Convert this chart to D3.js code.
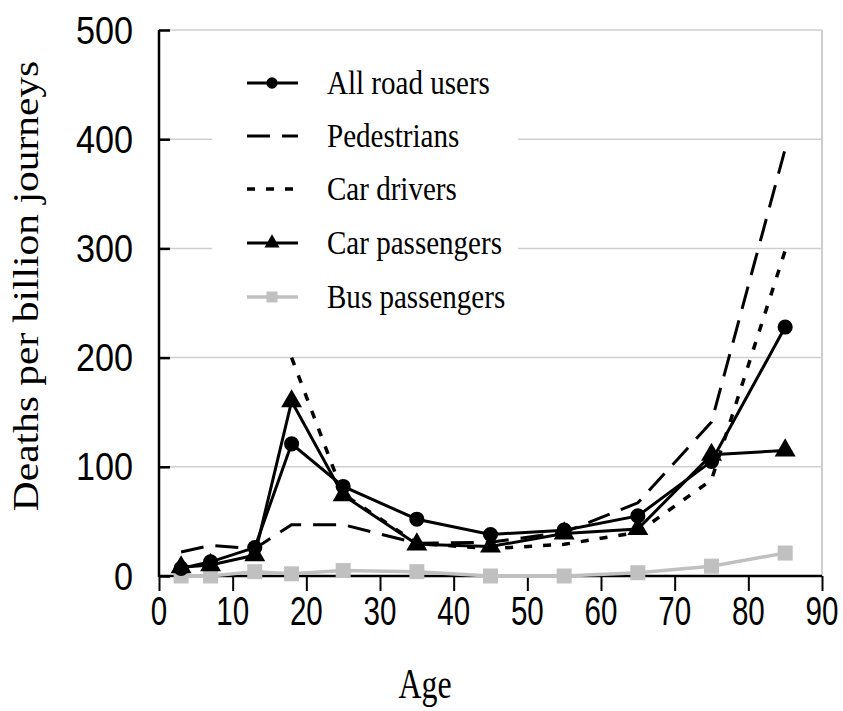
<!DOCTYPE html>
<html><head><meta charset="utf-8">
<script src="https://cdn.jsdelivr.net/npm/d3@7"></script>
<style>body{margin:0;background:#fff}svg{display:block}</style>
</head><body>
<script>
const ages = [3, 7, 13, 18, 25, 35, 45, 55, 65, 75, 85];
const allRoadUsers  = [7, 13, 26, 121, 82, 52, 38, 42, 55, 105, 228];
const pedestrians   = [22, 28, 25, 47, 47, 30, 31, 40, 67, 141, 391];
const carDrivers    = [null, null, null, 200, 75, 30, 25, 29, 40, 88, 298];
const carPassengers = [8, 10, 19, 160, 74, 29, 27, 39, 43, 111, 115];
const busPassengers = [0, 0, 4, 2, 5, 4, 0, 0, 3, 9, 21];
const xTicks = [0, 10, 20, 30, 40, 50, 60, 70, 80, 90];
const yTicks = [0, 100, 200, 300, 400, 500];
const seriesNames = ["All road users", "Pedestrians", "Car drivers", "Car passengers", "Bus passengers"];

const W = 843, H = 711;
const L = 159, R = 822, T = 30, B = 576;
const svg = d3.select("body").append("svg").attr("width", W).attr("height", H);
const x = d3.scaleLinear().domain([0, 90]).range([L, R]);
const y = d3.scaleLinear().domain([0, 500]).range([B, T]);

// gridlines
svg.append("g").selectAll("line").data(yTicks.filter(v => v > 0)).join("line")
  .attr("x1", L).attr("x2", R).attr("y1", d => y(d)).attr("y2", d => y(d))
  .attr("stroke", "#cfcfcf").attr("stroke-width", 1.5);
// right border
svg.append("line").attr("x1", R).attr("x2", R).attr("y1", T).attr("y2", B)
  .attr("stroke", "#cfcfcf").attr("stroke-width", 2);

// legend background
svg.append("rect").attr("x", 212).attr("y", 50).attr("width", 306).attr("height", 272).attr("fill", "#fff");

// axes
const yAxis = svg.append("g").attr("transform", `translate(${L},0)`)
  .call(d3.axisRight(y).tickValues(yTicks).tickSize(11).tickFormat(""));
yAxis.select(".domain").attr("stroke-width", 2.5).attr("d", `M0,${T}V${B+1}`);
yAxis.selectAll(".tick line").attr("stroke-width", 2.5);

const xAxis = svg.append("g").attr("transform", `translate(0,${B})`)
  .call(d3.axisBottom(x).tickValues(xTicks).tickSize(15).tickFormat(""));
xAxis.select(".domain").attr("stroke-width", 2.5).attr("d", `M${L},0H${R}`);
xAxis.selectAll(".tick line").attr("stroke-width", 2);

// tick labels
const xl = svg.append("g");
xTicks.forEach(v => {
  xl.append("g").attr("transform", `translate(${x(v)},${625}) scale(0.74,1)`)
    .append("text").attr("text-anchor", "middle")
    .attr("font-family", "Liberation Sans, Arial, sans-serif").attr("font-size", 40)
    .attr("fill", "#000").text(v);
});
const yl = svg.append("g");
yTicks.forEach(v => {
  yl.append("g").attr("transform", `translate(133,${y(v) + 13.5}) scale(0.9,1)`)
    .append("text").attr("text-anchor", "end")
    .attr("font-family", "Liberation Sans, Arial, sans-serif").attr("font-size", 38)
    .attr("fill", "#000").text(v);
});

// axis titles
svg.append("g").attr("transform", `translate(425,698) scale(0.76,1)`)
  .append("text").attr("text-anchor", "middle")
  .attr("font-family", "Liberation Serif, Times New Roman, serif").attr("font-size", 42)
  .text("Age");
svg.append("g").attr("transform", `translate(38,286) scale(0.85,1) rotate(-90)`)
  .append("text").attr("text-anchor", "middle")
  .attr("font-family", "Liberation Serif, Times New Roman, serif").attr("font-size", 41.5)
  .text("Deaths per billion journeys");

// series
const mk = vals => ages.map((a, i) => ({a, v: vals[i]}));
const line = d3.line().defined(d => d.v != null).x(d => x(d.a)).y(d => y(d.v));
const series = [
  {data: mk(allRoadUsers), color: "#000", dash: null, marker: "circle", w: 3},
  {data: mk(pedestrians), color: "#000", dash: "23,12", marker: null, w: 3},
  {data: mk(carDrivers), color: "#000", dash: "8,11", marker: null, w: 3.5},
  {data: mk(carPassengers), color: "#000", dash: null, marker: "triangle", w: 3},
  {data: mk(busPassengers), color: "#c0c0c0", dash: null, marker: "square", w: 3.5}
];
const sym = {circle: d3.symbol(d3.symbolCircle, 180), triangle: d3.symbol(d3.symbolTriangle, 190), square: d3.symbol(d3.symbolSquare, 225)};

const drawOrder = [4, 1, 2, 3, 0];
drawOrder.forEach(i => {
  const s = series[i];
  svg.append("path").datum(s.data).attr("d", line).attr("fill", "none")
    .attr("stroke", s.color).attr("stroke-width", s.w)
    .attr("stroke-dasharray", s.dash);
  if (s.marker) {
    svg.append("g").selectAll("path").data(s.data.filter(d => d.v != null)).join("path")
      .attr("transform", d => `translate(${x(d.a)},${y(d.v)})`)
      .attr("d", sym[s.marker]()).attr("fill", s.color);
  }
});

// legend
const legY = [83, 136, 189, 243, 297];
const small = {circle: d3.symbol(d3.symbolCircle, 100), triangle: d3.symbol(d3.symbolTriangle, 100), square: d3.symbol(d3.symbolSquare, 120)};
series.forEach((s, i) => {
  const g = svg.append("g").attr("transform", `translate(0,${legY[i]})`);
  g.append("line").attr("x1", 247).attr("x2", 298).attr("y1", 0).attr("y2", 0)
    .attr("stroke", s.color).attr("stroke-width", s.w).attr("stroke-dasharray", s.dash);
  if (s.marker) {
    g.append("path").attr("transform", "translate(272,0)").attr("d", small[s.marker]()).attr("fill", s.color);
  }
  g.append("g").attr("transform", "translate(327,11) scale(0.88,1)")
    .append("text").attr("font-family", "Liberation Serif, Times New Roman, serif")
    .attr("font-size", 33).attr("fill", "#000").text(seriesNames[i]);
});
</script>
</body></html>
